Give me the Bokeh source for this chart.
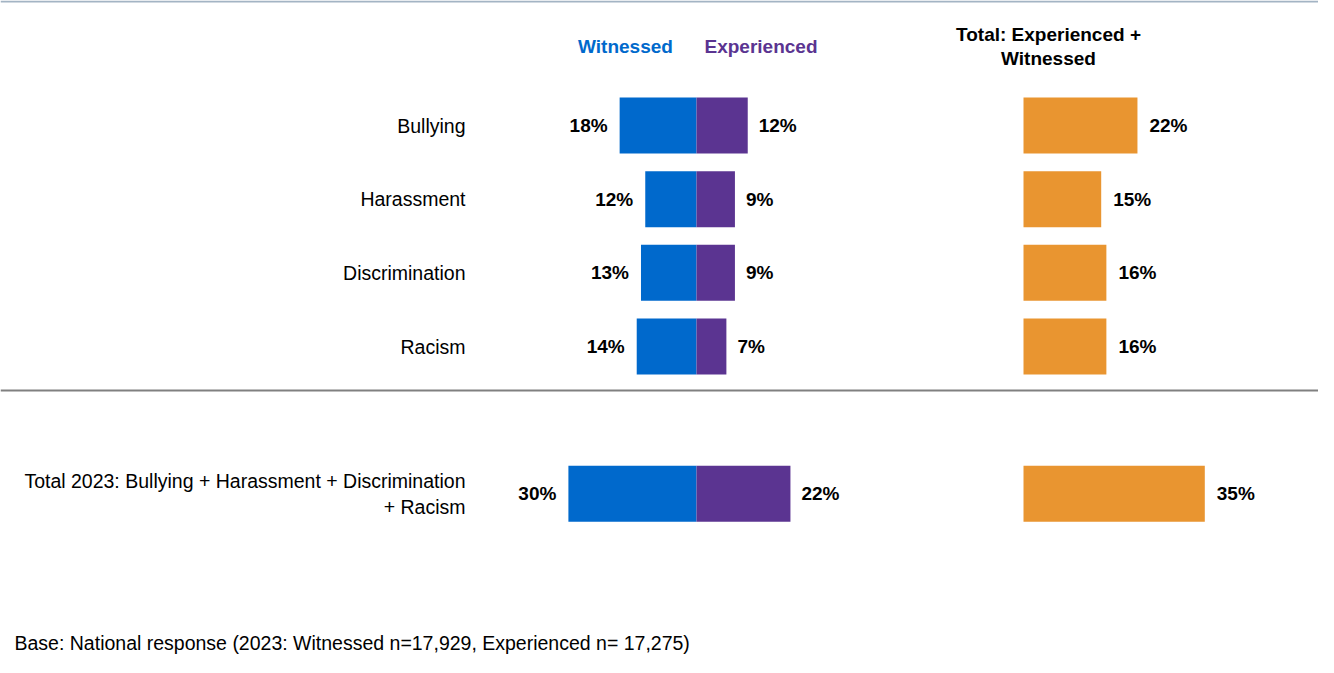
from bokeh.plotting import figure
from bokeh.models import Range1d, Span, ColumnDataSource
from bokeh.core.properties import value
from bokeh.embed import file_html
from bokeh.resources import INLINE

# ---------------- data ----------------
categories = ["Bullying", "Harassment", "Discrimination", "Racism",
              "Total 2023: Bullying + Harassment + Discrimination\n+ Racism"]
witnessed = [18, 12, 13, 14, 30]
experienced = [12, 9, 9, 7, 22]
total = [22, 15, 16, 16, 35]
series_names = ["Witnessed", "Experienced"]
total_title = "Total: Experienced +\nWitnessed"
footnote = "Base: National response (2023: Witnessed n=17,929, Experienced n= 17,275)"

# ---------------- layout ----------------
W, H = 1318, 657
M = 0
PX_PER_PCT = 4.27
CENTER_PX = 696
TOTAL_PX_PER_PCT = 5.18
TOTAL_START_PX = 1023
ROW_PX = 73.67
ROW0_PX = 125
FONT = value("Liberation Sans")
FS = "19.5px"
FSB = "19px"

BLUE = "#0069CC"
PURPLE = "#5B3491"
ORANGE = "#E99530"

x_start = -(CENTER_PX - M) / PX_PER_PCT
x_end = x_start + W / PX_PER_PCT
tx_start = -(TOTAL_START_PX - M) / TOTAL_PX_PER_PCT
tx_end = tx_start + W / TOTAL_PX_PER_PCT
y_top = -(ROW0_PX - M) / ROW_PX
y_bottom = y_top + H / ROW_PX


def px_x(px):
    return x_start + (px - M) / PX_PER_PCT


def px_y(py):
    return y_top + (py - M) / ROW_PX


n_main = len(categories) - 1
rows = [i if i < n_main else i + 1 for i in range(len(categories))]

src = ColumnDataSource(dict(
    y=rows,
    cat=categories,
    w_left=[-v for v in witnessed],
    w=witnessed,
    e=experienced,
    t=total,
    w_lab=[f"{v}%" for v in witnessed],
    e_lab=[f"{v}%" for v in experienced],
    t_lab=[f"{v}%" for v in total],
))

p = figure(width=W, height=H,
           x_range=Range1d(x_start, x_end),
           y_range=Range1d(y_bottom, y_top),
           output_backend="svg", toolbar_location=None,
           x_axis_location=None, y_axis_location=None,
           min_border=0, outline_line_color=None,
           background_fill_color="white", border_fill_color="white")
p.extra_x_ranges = {"total": Range1d(tx_start, tx_end)}
p.grid.visible = False

BAR_H = 0.76
p.hbar(y="y", left="w_left", right=0, height=BAR_H, source=src,
       fill_color=BLUE, line_color=None)
p.hbar(y="y", left=0, right="e", height=BAR_H, source=src,
       fill_color=PURPLE, line_color=None)
p.hbar(y="y", left=0, right="t", height=BAR_H, source=src,
       fill_color=ORANGE, line_color=None, x_range_name="total")

common = dict(text_font=FONT, text_font_size=FSB, text_font_style="bold",
              text_color="black", text_baseline="middle", source=src)
p.text(x="w_left", y="y", text="w_lab", text_align="right", x_offset=-12, **common)
p.text(x="e", y="y", text="e_lab", text_align="left", x_offset=11, **common)
p.text(x="t", y="y", text="t_lab", text_align="left", x_offset=12,
       x_range_name="total", **common)

# category labels
p.text(x=px_x(465), y="y", text="cat", source=src, text_align="right",
       text_baseline="middle", text_font=FONT, text_font_size=FS,
       text_color="black", text_line_height=1.16)

# headers
p.text(x=[px_x(625)], y=[px_y(46)], text=[series_names[0]], text_align="center",
       text_baseline="middle", text_font=FONT, text_font_size=FSB,
       text_font_style="bold", text_color=BLUE)
p.text(x=[px_x(760.5)], y=[px_y(46)], text=[series_names[1]], text_align="center",
       text_baseline="middle", text_font=FONT, text_font_size=FSB,
       text_font_style="bold", text_color=PURPLE)
p.text(x=[px_x(1048)], y=[px_y(46)], text=[total_title], text_align="center",
       text_baseline="middle", text_font=FONT, text_font_size=FSB,
       text_font_style="bold", text_color="black", text_line_height=1.15)

# footnote
p.text(x=[px_x(14)], y=[px_y(642)], text=[footnote], text_align="left",
       text_baseline="middle", text_font=FONT, text_font_size=FS,
       text_color="black")

# rules
p.add_layout(Span(location=px_y(390), dimension="width",
                  line_color="#808080", line_width=2))
p.add_layout(Span(location=px_y(1), dimension="width",
                  line_color="#A3B4C4", line_width=2))

open("out.html", "w").write(file_html(p, INLINE))
